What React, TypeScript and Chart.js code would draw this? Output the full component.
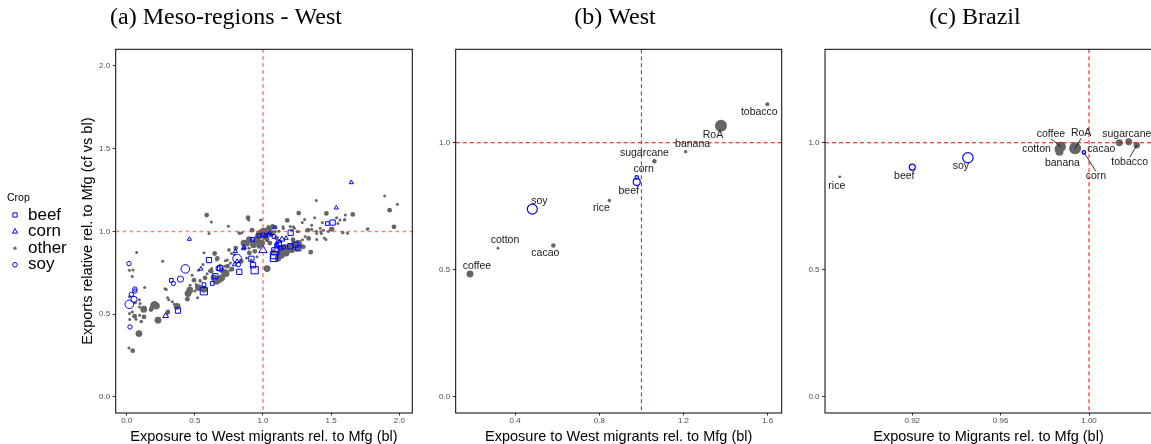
import React, { useEffect, useRef } from "react";
import { Chart, registerables } from "chart.js";
Chart.register(...registerables);

const SANS = "'Liberation Sans', Arial, Helvetica, sans-serif";
const SERIF = "'Liberation Serif', 'Times New Roman', serif";
const GRAY = "#666666";
const BLUE = "#0000FF";

// ---------- Panel (a): Meso-regions - West  [exposure, exports, size class] ----------
const mesoOther: number[][] = [
  [0.02, 0.766, 1], [0.046, 0.768, 1], [0.041, 0.728, 1], [0.073, 0.873, 1], [0.02, 0.605, 1],
  [0.093, 0.587, 1], [0.041, 0.514, 1], [0.02, 0.504, 1], [0.058, 0.488, 2], [0.022, 0.468, 1],
  [0.095, 0.494, 1], [0.108, 0.458, 1], [0.125, 0.53, 3], [0.127, 0.484, 2], [0.132, 0.661, 1],
  [0.09, 0.383, 3], [0.017, 0.296, 1], [0.044, 0.28, 2], [0.064, 0.569, 1], [0.098, 0.565, 1],
  [0.093, 0.544, 1], [0.068, 0.47, 1], [0.105, 0.454, 1], [0.176, 0.524, 1], [0.18, 0.53, 2],
  [0.198, 0.554, 3], [0.218, 0.55, 3], [0.205, 0.56, 3], [0.19, 0.545, 2], [0.23, 0.464, 3],
  [0.264, 0.82, 1], [0.281, 0.654, 1], [0.298, 0.504, 1], [0.309, 0.587, 1], [0.3, 0.6, 1],
  [0.37, 0.548, 3], [0.29, 0.649, 1], [0.303, 0.514, 2], [0.35, 0.56, 1], [0.335, 0.575, 1],
  [0.445, 0.591, 2], [0.45, 0.625, 3], [0.463, 0.645, 3], [0.494, 0.706, 2], [0.48, 0.736, 1],
  [0.52, 0.6, 1], [0.526, 0.661, 3], [0.51, 0.68, 1], [0.5, 0.64, 1], [0.566, 0.651, 3],
  [0.54, 0.7, 1], [0.56, 0.8, 1], [0.587, 1.099, 2], [0.621, 1.058, 1], [0.604, 0.988, 1],
  [0.575, 0.72, 2], [0.59, 0.745, 1], [0.645, 0.867, 2], [0.665, 0.837, 2], [0.62, 0.76, 2],
  [0.64, 0.72, 3], [0.66, 0.7, 3], [0.68, 0.71, 3], [0.697, 0.72, 3], [0.718, 0.752, 3],
  [0.7, 0.77, 2], [0.724, 0.823, 1], [0.75, 0.887, 1], [0.746, 1.032, 1], [0.772, 0.772, 2],
  [0.74, 0.79, 2], [0.76, 0.81, 1], [0.79, 0.86, 1], [0.8, 0.9, 2], [0.72, 0.79, 1],
  [0.69, 0.76, 1], [0.623, 0.776, 1], [0.606, 0.762, 1], [0.538, 0.706, 1], [0.513, 0.665, 1],
  [0.465, 0.675, 1], [0.685, 0.796, 1], [0.66, 0.827, 1], [0.729, 0.746, 3], [0.751, 0.891, 1],
  [0.846, 0.992, 1], [0.822, 0.992, 1], [0.567, 0.871, 1], [0.526, 0.766, 1], [0.738, 0.827, 1],
  [0.77, 0.867, 1], [0.758, 0.766, 1], [0.897, 0.899, 1], [0.929, 0.907, 1], [0.914, 0.827, 1],
  [0.956, 0.847, 1], [0.83, 0.988, 1], [0.89, 1.083, 2], [0.895, 1.07, 1], [0.92, 1.008, 2],
  [0.983, 1.069, 1], [0.885, 0.923, 2], [0.86, 0.93, 3], [0.87, 0.9, 1], [0.9, 0.95, 3],
  [0.93, 0.92, 3], [0.95, 0.94, 3], [0.96, 0.96, 3], [0.97, 0.98, 3], [0.98, 0.99, 3],
  [0.9, 0.87, 2], [0.88, 0.84, 1], [0.84, 0.82, 2], [0.94, 0.88, 2], [0.97, 0.91, 2],
  [0.99, 0.93, 3], [1.0, 1.0, 3], [1.02, 1.0, 3], [1.04, 1.01, 3], [1.06, 0.99, 3],
  [1.01, 0.97, 3], [1.03, 0.95, 2], [1.05, 0.93, 2], [1.03, 0.776, 3], [1.07, 1.03, 2],
  [1.09, 1.0, 1], [1.1, 0.96, 2], [1.12, 0.867, 3], [1.13, 0.9, 3], [1.15, 0.88, 3],
  [1.17, 0.87, 3], [1.18, 0.9, 3], [1.2, 0.91, 3], [1.21, 0.89, 3], [1.23, 0.92, 3],
  [1.25, 0.9, 3], [1.26, 0.93, 3], [1.22, 0.95, 2], [1.147, 1.028, 1], [1.178, 1.067, 2],
  [1.2, 1.03, 1], [1.23, 1.02, 1], [1.25, 1.0, 1], [1.262, 1.111, 2], [1.288, 1.054, 1],
  [1.305, 1.073, 1], [1.276, 0.915, 2], [1.296, 0.907, 2], [1.335, 0.958, 2], [1.35, 0.875, 2],
  [1.33, 1.008, 2], [1.357, 1.014, 1], [1.379, 1.083, 1], [1.391, 1.187, 1], [1.391, 1.002, 1],
  [1.394, 0.952, 1], [1.428, 0.988, 1], [1.443, 1.008, 1], [1.435, 1.054, 1], [1.465, 1.109, 2],
  [1.506, 1.014, 2], [1.55, 1.048, 1], [1.587, 0.994, 1], [1.6, 1.073, 1], [1.604, 1.099, 1],
  [1.658, 1.103, 2], [1.77, 1.016, 1], [1.893, 1.214, 1], [1.929, 1.129, 2], [1.986, 1.165, 1],
  [1.961, 1.028, 2], [1.11, 0.84, 3], [1.14, 0.85, 2], [1.16, 0.91, 2], [1.08, 0.88, 2],
  [1.1, 0.93, 1], [1.29, 0.95, 1], [1.31, 0.97, 1], [1.45, 0.96, 1], [1.42, 1.02, 1],
  [1.48, 1.0, 1], [1.62, 0.99, 1], [1.04, 1.032, 1], [1.095, 1.028, 1], [1.117, 1.002, 1],
  [1.149, 1.018, 1], [1.21, 1.008, 1], [1.222, 1.028, 1], [1.259, 0.998, 1], [1.32, 1.008, 1],
  [1.357, 1.038, 1], [1.394, 0.988, 1], [1.425, 0.998, 1], [1.462, 0.952, 1], [1.501, 1.014, 2],
  [1.54, 1.083, 1], [1.565, 1.069, 1], [1.597, 1.069, 1], [1.584, 0.992, 1], [1.765, 1.014, 1],
];
const mesoBeef: number[][] = [
  [0.327, 0.705, 1], [0.376, 0.522, 2], [0.566, 0.639, 3], [0.567, 0.679, 1], [0.604, 0.827, 2],
  [0.628, 0.686, 1], [0.65, 0.73, 2], [0.685, 0.778, 2], [0.67, 0.776, 1], [0.826, 0.756, 2],
  [0.915, 0.835, 2], [0.927, 0.796, 2], [0.939, 0.766, 3], [0.924, 0.952, 1], [0.97, 0.975, 1],
  [1.0, 0.98, 1], [1.02, 0.975, 1], [1.083, 0.857, 3], [1.09, 0.88, 3], [1.117, 0.927, 2],
  [1.203, 0.992, 2], [1.259, 0.899, 2], [1.2, 0.91, 2], [1.24, 0.92, 2], [1.08, 0.84, 3],
  [1.472, 1.048, 1], [1.511, 1.054, 2], [1.08, 0.97, 1], [1.15, 0.905, 1],
];
const mesoCorn: number[][] = [
  [0.286, 0.49, 2], [0.46, 0.954, 1], [0.545, 0.774, 1], [0.797, 0.881, 1], [0.856, 0.897, 1],
  [0.79, 0.8, 1], [0.81, 0.82, 1], [1.0, 0.887, 3], [1.085, 1.024, 1], [1.139, 0.952, 2],
  [1.12, 0.94, 1], [1.648, 1.296, 1], [1.538, 1.143, 1], [1.05, 0.99, 1], [1.17, 0.96, 1],
  [0.86, 0.905, 1], [1.1, 0.91, 2],
];
const mesoSoy: number[][] = [
  [0.017, 0.806, 1], [0.024, 0.423, 1], [0.019, 0.56, 3], [0.054, 0.59, 2], [0.034, 0.62, 1],
  [0.06, 0.64, 1], [0.06, 0.652, 1], [0.342, 0.686, 1], [0.394, 0.712, 2], [0.43, 0.774, 3],
  [0.81, 0.837, 3], [0.82, 0.8, 1], [1.04, 0.98, 1], [1.1, 0.92, 1], [1.13, 0.9, 1],
];
const legendCrops = ["beef", "corn", "other", "soy"];

// ---------- Panel (b): West ----------
const westCrops = ["coffee", "cotton", "soy", "cacao", "rice", "beef", "corn", "sugarcane", "banana", "RoA", "tobacco"];
const westExposure = [0.186, 0.319, 0.482, 0.582, 0.848, 0.978, 0.978, 1.062, 1.21, 1.378, 1.598];
const westExports = [0.484, 0.585, 0.739, 0.596, 0.773, 0.846, 0.864, 0.927, 0.965, 1.067, 1.151];
const westWeight = [12, 2, 25, 5, 3, 12, 3, 5, 3, 36, 4];

// ---------- Panel (c): Brazil ----------
const brazilCrops = ["rice", "beef", "soy", "cotton", "banana", "coffee", "RoA", "corn", "cacao", "sugarcane", "tobacco"];
const brazilExposure = [0.8872, 0.92, 0.9452, 0.9862, 0.9866, 0.9873, 0.9937, 0.9977, 1.0137, 1.018, 1.0216];
const brazilExports = [0.866, 0.904, 0.941, 0.975, 0.965, 0.984, 0.978, 0.962, 1.0, 1.004, 0.99];
const brazilWeight = [2, 9, 27, 16, 16, 25, 36, 3, 12, 12, 10];

const blueCrops = ["soy", "beef", "corn"];
const refLevel = 1;

// ticks
const aXTicks = [0, 0.5, 1, 1.5, 2];
const aXLabels = ["0.0", "0.5", "1.0", "1.5", "2.0"];
const aYTicks = [0, 0.5, 1, 1.5, 2];
const aYLabels = ["0.0", "0.5", "1.0", "1.5", "2.0"];
const bXTicks = [0.4, 0.8, 1.2, 1.6];
const bXLabels = ["0.4", "0.8", "1.2", "1.6"];
const bcYTicks = [0, 0.5, 1];
const bcYLabels = ["0.0", "0.5", "1.0"];
const cXTicks = [0.92, 0.96, 1.0];
const cXLabels = ["0.92", "0.96", "1.00"];

const titles = ["(a) Meso-regions - West", "(b) West", "(c) Brazil"];
const xTitleWest = "Exposure to West migrants rel. to Mfg (bl)";
const xTitleBrazil = "Exposure to Migrants rel. to Mfg (bl)";
const yTitle = "Exports relative rel. to Mfg (cf vs bl)";

// label layout (pixel offsets of label centre from point, leader flag)
const westLabelOffsets = [[7, -8], [7, -8], [7, -8], [-8, 8], [-8, 8], [-8, 9], [7, -8], [-10, -8], [7, -8], [-8, 9], [-8, 8]];
const brazilLabelOffsets = [[-3, 9], [-8, 9], [-7, 8], [-22, 0], [3, 11], [-10, -13], [6, -15], [12, 24], [-18, 6], [-2, -8], [-7, 17]];
const brazilLeader = [false, false, false, false, false, true, true, true, false, false, true];

const H = 444;
const TOP = 49.3;

function axis(horizontal: boolean, min: number, max: number, ticks: number[], labels: string[], size: number, title?: string, titlePad?: any) {
  return {
    type: "linear",
    min,
    max,
    afterBuildTicks: (s: any) => {
      s.ticks = ticks.map((v) => ({ value: v }));
    },
    afterFit: (s: any) => {
      if (horizontal) s.height = size;
      else s.width = size;
    },
    ticks: {
      autoSkip: false,
      maxRotation: 0,
      font: { family: SANS, size: 8 },
      color: "#4D4D4D",
      padding: horizontal ? 0.5 : 2.5,
      callback: (_v: any, i: number) => labels[i],
    },
    grid: { drawOnChartArea: false, drawTicks: true, tickLength: horizontal ? 2.5 : 3, tickColor: "#333333", lineWidth: 1 },
    border: { display: false },
    title: title
      ? { display: true, text: title, color: "#000", font: { family: SANS, size: 14.5 }, padding: titlePad }
      : { display: false },
  };
}

function framePlugin(lineColor: string, lineWidth: number, dash: number[]) {
  return {
    id: "frameRef",
    afterDatasetsDraw(chart: any) {
      const { ctx, chartArea: a, scales } = chart;
      const px = scales.x.getPixelForValue(refLevel);
      const py = scales.y.getPixelForValue(refLevel);
      ctx.save();
      ctx.strokeStyle = lineColor;
      ctx.lineWidth = lineWidth;
      ctx.setLineDash(dash);
      ctx.beginPath();
      ctx.moveTo(px, a.top);
      ctx.lineTo(px, a.bottom);
      ctx.moveTo(a.left, py);
      ctx.lineTo(a.right, py);
      ctx.stroke();
      ctx.setLineDash([]);
      ctx.strokeStyle = "#000";
      ctx.lineWidth = 1;
      ctx.strokeRect(a.left, a.top, a.right - a.left, a.bottom - a.top);
      ctx.restore();
    },
  };
}

function titlePlugin(text: string, cx: number) {
  return {
    id: "subTitle",
    afterDraw(chart: any) {
      const ctx = chart.ctx;
      ctx.save();
      ctx.font = `24px ${SERIF}`;
      ctx.fillStyle = "#000";
      ctx.textAlign = "center";
      ctx.textBaseline = "middle";
      ctx.fillText(text, cx, 18);
      ctx.restore();
    },
  };
}

function drawMarker(ctx: any, kind: string, x: number, y: number, r: number) {
  ctx.beginPath();
  if (kind === "rect") {
    const s = r * Math.SQRT1_2;
    ctx.rect(x - s, y - s, 2 * s, 2 * s);
    ctx.strokeStyle = BLUE;
    ctx.lineWidth = 1;
    ctx.stroke();
  } else if (kind === "triangle") {
    ctx.moveTo(x, y - r);
    ctx.lineTo(x + r * 0.866, y + r * 0.5);
    ctx.lineTo(x - r * 0.866, y + r * 0.5);
    ctx.closePath();
    ctx.strokeStyle = BLUE;
    ctx.lineWidth = 1;
    ctx.stroke();
  } else if (kind === "dot") {
    ctx.arc(x, y, r, 0, Math.PI * 2);
    ctx.fillStyle = GRAY;
    ctx.fill();
  } else {
    ctx.arc(x, y, r, 0, Math.PI * 2);
    ctx.strokeStyle = BLUE;
    ctx.lineWidth = 1;
    ctx.stroke();
  }
}

const legendPlugin = {
  id: "cropLegend",
  afterDraw(chart: any) {
    const ctx = chart.ctx;
    ctx.save();
    ctx.textAlign = "left";
    ctx.textBaseline = "middle";
    ctx.fillStyle = "#000";
    ctx.font = `10.5px ${SANS}`;
    ctx.fillText("Crop", 7, 198.5);
    const kinds = ["rect", "triangle", "dot", "circle"];
    const radii = [3, 3, 1.6, 2.3];
    legendCrops.forEach((name, i) => {
      const y = 215 + i * 16.6;
      drawMarker(ctx, kinds[i], 15, y, radii[i]);
      ctx.fillStyle = "#000";
      ctx.font = `17px ${SANS}`;
      ctx.fillText(name, 28, y);
    });
    ctx.restore();
  },
};

function labelPlugin(crops: string[], offsets: number[][], leader: boolean[] | null) {
  return {
    id: "cropLabels",
    afterDraw(chart: any) {
      const { ctx, scales } = chart;
      const meta0 = chart.data.datasets;
      ctx.save();
      ctx.font = `10.5px ${SANS}`;
      ctx.fillStyle = "#1A1A1A";
      ctx.textAlign = "center";
      ctx.textBaseline = "middle";
      const pts: any[] = [];
      meta0.forEach((ds: any) => ds.data.forEach((p: any) => pts.push(p)));
      crops.forEach((name, i) => {
        const p = pts.find((q) => q.name === name);
        if (!p) return;
        const px = scales.x.getPixelForValue(p.x);
        const py = scales.y.getPixelForValue(p.y);
        const lx = px + offsets[i][0];
        const ly = py + offsets[i][1];
        if (leader && leader[i]) {
          ctx.strokeStyle = "#000";
          ctx.lineWidth = 0.8;
          ctx.beginPath();
          ctx.moveTo(lx, ly + (ly < py ? 5 : -5));
          ctx.lineTo(px, py);
          ctx.stroke();
        }
        ctx.fillText(name, lx, ly);
      });
      ctx.restore();
    },
  };
}

function mesoDataset(rows: number[][], style: string, radii: number[], filled: boolean) {
  return {
    data: rows.map(([x, y, s]) => ({ x, y, s })),
    pointStyle: style,
    pointRadius: (c: any) => radii[c.raw.s],
    pointHoverRadius: (c: any) => radii[c.raw.s],
    pointBackgroundColor: filled ? GRAY : "rgba(0,0,0,0)",
    pointBorderColor: filled ? GRAY : BLUE,
    pointBorderWidth: filled ? 0 : 1,
    showLine: false,
  };
}

function cropDatasets(crops: string[], xs: number[], ys: number[], ws: number[]) {
  const rows = crops.map((name, i) => ({ x: xs[i], y: ys[i], w: ws[i], name }));
  const rad = (c: any) => Math.sqrt(c.raw.w);
  return [
    {
      data: rows.filter((r) => blueCrops.includes(r.name)),
      pointStyle: "circle",
      pointRadius: rad,
      pointHoverRadius: rad,
      pointBackgroundColor: "rgba(0,0,0,0)",
      pointBorderColor: BLUE,
      pointBorderWidth: 1.2,
      showLine: false,
    },
    {
      data: rows.filter((r) => !blueCrops.includes(r.name)),
      pointStyle: "circle",
      pointRadius: rad,
      pointHoverRadius: rad,
      pointBackgroundColor: GRAY,
      pointBorderColor: GRAY,
      pointBorderWidth: 0,
      showLine: false,
    },
  ];
}

function baseOptions(padding: any, scales: any) {
  return {
    animation: false,
    responsive: false,
    devicePixelRatio: 1,
    events: [],
    layout: { padding },
    plugins: { legend: { display: false }, tooltip: { enabled: false }, title: { display: false } },
    scales,
  };
}

function configA() {
  return {
    type: "scatter",
    data: {
      datasets: [
        mesoDataset(mesoSoy, "circle", [0, 2.2, 3.1, 4.3], false),
        mesoDataset(mesoCorn, "triangle", [0, 2.4, 3.3, 4.8], false),
        mesoDataset(mesoBeef, "rect", [0, 2.6, 3.7, 5.1], false),
        mesoDataset(mesoOther, "circle", [0, 1.5, 2.4, 3.4], true),
      ],
    },
    options: baseOptions(
      { left: 75, right: 7.7, top: TOP, bottom: 0 },
      {
        x: axis(true, -0.0807, 2.0954, aXTicks, aXLabels, 31, xTitleWest, { top: 0, bottom: -1.5 }),
        y: axis(false, -0.0968, 2.1008, aYTicks, aYLabels, 40.7, yTitle, { top: 4.5, bottom: 0 }),
      }
    ),
    plugins: [framePlugin("rgba(255,40,40,0.6)", 1.6, [3.5, 3.5]), legendPlugin, titlePlugin(titles[0], 226)],
  };
}

function configB() {
  return {
    type: "scatter",
    data: { datasets: cropDatasets(westCrops, westExposure, westExports, westWeight) },
    options: baseOptions(
      { left: 0, right: 10.3, top: TOP, bottom: 0 },
      {
        x: axis(true, 0.1182, 1.6664, bXTicks, bXLabels, 31, xTitleWest, { top: 0, bottom: -1.5 }),
        y: axis(false, -0.063, 1.3675, bcYTicks, bcYLabels, 35.7),
      }
    ),
    plugins: [framePlugin("#FF0000", 1, [4, 3]), labelPlugin(westCrops, westLabelOffsets, null), titlePlugin(titles[1], 615 - 420)],
  };
}

function configC() {
  return {
    type: "scatter",
    data: { datasets: cropDatasets(brazilCrops, brazilExposure, brazilExports, brazilWeight) },
    options: baseOptions(
      { left: 0, right: 8, top: TOP, bottom: 0 },
      {
        x: axis(true, 0.8805, 1.0285, cXTicks, cXLabels, 31, xTitleBrazil, { top: 0, bottom: -1.5 }),
        y: axis(false, -0.063, 1.3675, bcYTicks, bcYLabels, 33),
      }
    ),
    plugins: [framePlugin("#FF0000", 1, [4, 3]), labelPlugin(brazilCrops, brazilLabelOffsets, brazilLeader), titlePlugin(titles[2], 975 - 792)],
  };
}

function Panel({ make, left, width }: { make: () => any; left: number; width: number }) {
  const ref = useRef<HTMLCanvasElement>(null);
  useEffect(() => {
    const chart = new Chart(ref.current as HTMLCanvasElement, make());
    return () => chart.destroy();
  }, []);
  return (
    <canvas
      ref={ref}
      width={width}
      height={H}
      style={{ position: "absolute", left, top: 0, width, height: H, display: "block" }}
    />
  );
}

export default function App() {
  return (
    <div style={{ position: "absolute", left: 0, top: 0, width: 1151, height: H, overflow: "hidden", background: "#fff" }}>
      <Panel make={configA} left={0} width={420} />
      <Panel make={configB} left={420} width={372} />
      <Panel make={configC} left={792} width={368} />
    </div>
  );
}
